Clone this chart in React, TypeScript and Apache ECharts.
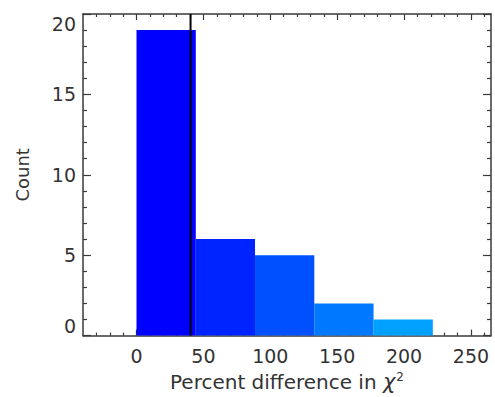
import React, { useEffect, useRef } from "react";
import * as echarts from "echarts";

const binStarts = [0, 44.3, 88.6, 132.9, 177.2];
const binEnds = [44.3, 88.6, 132.9, 177.2, 221.5];
const counts = [19, 6, 5, 2, 1];
const markerValue = 40.4;
const xMajorTicks = [0, 50, 100, 150, 200, 250];
const xMinorTicks = [-30, -20, -10, 10, 20, 30, 40, 60, 70, 80, 90, 110, 120, 130, 140, 160, 170, 180, 190, 210, 220, 230, 240, 260];
const yMajorTicks = [0, 5, 10, 15, 20];
const yMinorTicks = [1, 2, 3, 4, 6, 7, 8, 9, 11, 12, 13, 14, 16, 17, 18, 19];

const barColors = ["#0000FF", "#0024FF", "#0050FF", "#0078FF", "#00A0FF"];
const FONT = "DejaVu Sans";
const AXIS_COLOR = "#3a3a3a";
const TEXT_COLOR = "#333";

export default function App() {
  const ref = useRef<HTMLDivElement>(null);
  useEffect(() => {
    if (!ref.current) return;
    const chart = echarts.init(ref.current, null, { renderer: "svg" });
    const data = binStarts.map((s, i) => [s, binEnds[i], counts[i]]);
    const X_MIN = -40;
    const X_MAX = 265;
    const mkX = (pos: string, major: boolean, withLine: boolean, labels: boolean, name?: any) => ({
      type: "value",
      position: pos,
      min: X_MIN,
      max: X_MAX,
      splitLine: { show: false },
      axisLine: { show: withLine, onZero: false, lineStyle: { color: AXIS_COLOR, width: 1.5 } },
      axisTick: {
        show: true,
        inside: true,
        length: major ? 6 : 3,
        customValues: major ? xMajorTicks : xMinorTicks,
        lineStyle: { color: AXIS_COLOR, width: 1.2 },
      },
      axisLabel: labels
        ? { show: true, customValues: xMajorTicks, fontSize: 19, fontFamily: FONT, color: TEXT_COLOR, margin: 11 }
        : { show: false },
      ...(name || {}),
    });
    const mkY = (pos: string, major: boolean, withLine: boolean, labels: boolean, name?: any) => ({
      type: "value",
      position: pos,
      min: 0,
      max: 20,
      splitLine: { show: false },
      axisLine: { show: withLine, onZero: false, lineStyle: { color: AXIS_COLOR, width: 1.5 } },
      axisTick: {
        show: true,
        inside: true,
        length: major ? 8 : 4,
        customValues: major ? yMajorTicks : yMinorTicks,
        lineStyle: { color: AXIS_COLOR, width: 1.2 },
      },
      axisLabel: labels
        ? {
            show: true,
            customValues: yMajorTicks,
            fontSize: 19,
            fontFamily: FONT,
            color: TEXT_COLOR,
            margin: 7,
            verticalAlignMinLabel: "bottom",
            verticalAlignMaxLabel: "top",
          }
        : { show: false },
      ...(name || {}),
    });

    chart.setOption({
      animation: false,
      backgroundColor: "#fff",
      grid: { left: 83, top: 14, right: 4, bottom: 61, containLabel: false },
      xAxis: [
        mkX("bottom", true, true, true, {
          name: "Percent difference in {chi|χ}{sup|2}",
          nameLocation: "middle",
          nameGap: 30,
          nameTextStyle: {
            fontSize: 20,
            fontFamily: FONT,
            color: TEXT_COLOR,
            rich: {
              chi: { fontSize: 21, fontStyle: "italic", fontFamily: FONT, color: TEXT_COLOR },
              sup: { fontSize: 12, fontFamily: FONT, color: TEXT_COLOR, verticalAlign: "top", padding: [0, 0, 10, 1] },
            },
          },
        }),
        mkX("bottom", false, false, false),
        mkX("top", true, true, false),
        mkX("top", false, false, false),
      ],
      yAxis: [
        mkY("left", true, true, true, {
          name: "Count",
          nameLocation: "middle",
          nameGap: 52,
          nameTextStyle: { fontSize: 18, fontFamily: FONT, color: TEXT_COLOR },
        }),
        mkY("left", false, false, false),
        mkY("right", true, true, false),
        mkY("right", false, false, false),
      ],
      series: [
        {
          type: "custom",
          xAxisIndex: 0,
          yAxisIndex: 0,
          encode: { x: [0, 1], y: 2 },
          data,
          renderItem: (params: any, api: any) => {
            const x0 = api.value(0);
            const x1 = api.value(1);
            const c = api.value(2);
            const p0 = api.coord([x0, c]);
            const p1 = api.coord([x1, 0]);
            return {
              type: "rect",
              shape: { x: p0[0], y: p0[1], width: p1[0] - p0[0], height: p1[1] - p0[1] },
              style: { fill: barColors[params.dataIndex % barColors.length] },
            };
          },
          z: 1,
        },
        {
          type: "line",
          xAxisIndex: 0,
          yAxisIndex: 0,
          data: [
            [markerValue, 0],
            [markerValue, 20],
          ],
          symbol: "none",
          lineStyle: { color: "#000", width: 2 },
          z: 5,
        },
      ],
    });
    return () => chart.dispose();
  }, []);
  return <div ref={ref} style={{ width: 495, height: 397, position: "absolute", left: 0, top: 0 }} />;
}
